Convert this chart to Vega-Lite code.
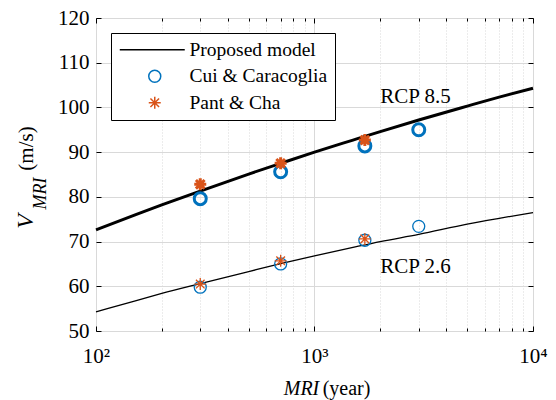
{
  "$schema": "https://vega.github.io/schema/vega-lite/v6.json",
  "width": 437,
  "height": 313,
  "autosize": {"type": "none"},
  "padding": {"left": 96, "top": 18, "right": 23, "bottom": 69},
  "background": "white",
  "config": {
    "view": {"stroke": "black", "strokeWidth": 1},
    "axis": {"domain": false},
    "legend": {
      "orient": "top-left",
      "offset": 15,
      "padding": 7,
      "symbolOffset": 27,
      "labelOffset": 25,
      "rowPadding": 5.5,
      "strokeColor": "black",
      "fillColor": "white",
      "cornerRadius": 0,
      "labelFont": "Liberation Serif",
      "labelFontSize": 19.5,
      "labelColor": "black",
      "symbolSize": 144,
      "symbolStrokeWidth": 1.5,
      "symbolOpacity": 1
    }
  },
  "datasets": {
    "lines": [
      {"MRI": 100, "V": 72.6, "scenario": "RCP 8.5", "series": "Proposed model"},
      {"MRI": 150, "V": 75.9, "scenario": "RCP 8.5", "series": "Proposed model"},
      {"MRI": 200, "V": 78.2, "scenario": "RCP 8.5", "series": "Proposed model"},
      {"MRI": 300, "V": 81.3, "scenario": "RCP 8.5", "series": "Proposed model"},
      {"MRI": 500, "V": 85.1, "scenario": "RCP 8.5", "series": "Proposed model"},
      {"MRI": 700, "V": 87.5, "scenario": "RCP 8.5", "series": "Proposed model"},
      {"MRI": 1000, "V": 90.0, "scenario": "RCP 8.5", "series": "Proposed model"},
      {"MRI": 1500, "V": 92.7, "scenario": "RCP 8.5", "series": "Proposed model"},
      {"MRI": 2000, "V": 94.6, "scenario": "RCP 8.5", "series": "Proposed model"},
      {"MRI": 3000, "V": 97.2, "scenario": "RCP 8.5", "series": "Proposed model"},
      {"MRI": 5000, "V": 100.3, "scenario": "RCP 8.5", "series": "Proposed model"},
      {"MRI": 7000, "V": 102.3, "scenario": "RCP 8.5", "series": "Proposed model"},
      {"MRI": 10000, "V": 104.3, "scenario": "RCP 8.5", "series": "Proposed model"},
      {"MRI": 100, "V": 54.3, "scenario": "RCP 2.6", "series": "Proposed model"},
      {"MRI": 150, "V": 56.7, "scenario": "RCP 2.6", "series": "Proposed model"},
      {"MRI": 200, "V": 58.4, "scenario": "RCP 2.6", "series": "Proposed model"},
      {"MRI": 300, "V": 60.6, "scenario": "RCP 2.6", "series": "Proposed model"},
      {"MRI": 500, "V": 63.3, "scenario": "RCP 2.6", "series": "Proposed model"},
      {"MRI": 700, "V": 65.05, "scenario": "RCP 2.6", "series": "Proposed model"},
      {"MRI": 1000, "V": 66.8, "scenario": "RCP 2.6", "series": "Proposed model"},
      {"MRI": 1500, "V": 68.7, "scenario": "RCP 2.6", "series": "Proposed model"},
      {"MRI": 2000, "V": 70.0, "scenario": "RCP 2.6", "series": "Proposed model"},
      {"MRI": 3000, "V": 71.6, "scenario": "RCP 2.6", "series": "Proposed model"},
      {"MRI": 5000, "V": 73.9, "scenario": "RCP 2.6", "series": "Proposed model"},
      {"MRI": 7000, "V": 75.2, "scenario": "RCP 2.6", "series": "Proposed model"},
      {"MRI": 10000, "V": 76.5, "scenario": "RCP 2.6", "series": "Proposed model"}
    ],
    "cui": [
      {"MRI": 300, "V": 79.6, "scenario": "RCP 8.5", "series": "Cui & Caracoglia"},
      {"MRI": 700, "V": 85.6, "scenario": "RCP 8.5", "series": "Cui & Caracoglia"},
      {"MRI": 1700, "V": 91.4, "scenario": "RCP 8.5", "series": "Cui & Caracoglia"},
      {"MRI": 3000, "V": 95.0, "scenario": "RCP 8.5", "series": "Cui & Caracoglia"},
      {"MRI": 300, "V": 59.8, "scenario": "RCP 2.6", "series": "Cui & Caracoglia"},
      {"MRI": 700, "V": 65.0, "scenario": "RCP 2.6", "series": "Cui & Caracoglia"},
      {"MRI": 1700, "V": 70.3, "scenario": "RCP 2.6", "series": "Cui & Caracoglia"},
      {"MRI": 3000, "V": 73.4, "scenario": "RCP 2.6", "series": "Cui & Caracoglia"}
    ],
    "pant": [
      {"MRI": 300, "V": 82.8, "scenario": "RCP 8.5", "series": "Pant & Cha"},
      {"MRI": 700, "V": 87.5, "scenario": "RCP 8.5", "series": "Pant & Cha"},
      {"MRI": 1700, "V": 92.7, "scenario": "RCP 8.5", "series": "Pant & Cha"},
      {"MRI": 300, "V": 60.5, "scenario": "RCP 2.6", "series": "Pant & Cha"},
      {"MRI": 700, "V": 65.7, "scenario": "RCP 2.6", "series": "Pant & Cha"},
      {"MRI": 1700, "V": 70.6, "scenario": "RCP 2.6", "series": "Pant & Cha"}
    ],
    "labels": [
      {"MRI": 2000, "V": 102.3, "label": "RCP 8.5"},
      {"MRI": 2000, "V": 64.3, "label": "RCP 2.6"}
    ]
  },
  "resolve": {"axis": {"x": "independent", "y": "independent"}},
  "layer": [
    {
      "data": {"name": "lines"},
      "mark": {"type": "line", "interpolate": "monotone"},
      "encoding": {
        "x": {
          "field": "MRI", "type": "quantitative",
          "scale": {"type": "log", "domain": [100, 10000], "nice": false},
          "axis": {
            "orient": "bottom",
            "values": [100, 200, 300, 400, 500, 600, 700, 800, 900, 1000, 2000, 3000, 4000, 5000, 6000, 7000, 8000, 9000, 10000],
            "labelExpr": "datum.value == 100 ? '10²' : datum.value == 1000 ? '10³' : datum.value == 10000 ? '10⁴' : ''",
            "labelFont": "Liberation Serif", "labelFontSize": 21, "labelColor": "black",
            "labelOverlap": false, "labelFlush": false, "labelPadding": 19,
            "tickColor": "black", "tickWidth": 1,
            "tickSize": {"condition": {"test": "datum.value == 100 || datum.value == 1000 || datum.value == 10000", "value": -5}, "value": -3},
            "grid": true, "gridColor": "#d9d9d9", "gridWidth": 1,
            "gridDash": {"condition": {"test": "datum.value == 100 || datum.value == 1000 || datum.value == 10000", "value": []}, "value": [1, 2]},
            "title": "(year)", "titleFont": "Liberation Serif", "titleFontSize": 20, "titleFontWeight": "normal", "titleColor": "black",
            "titleX": 250, "titleY": 63, "titleAlign": "center", "titleBaseline": "alphabetic", "titleAngle": 0
          }
        },
        "y": {
          "field": "V", "type": "quantitative",
          "scale": {"domain": [50, 120], "nice": false, "zero": false},
          "axis": {
            "orient": "left",
            "values": [50, 60, 70, 80, 90, 100, 110, 120],
            "labelFont": "Liberation Serif", "labelFontSize": 21, "labelColor": "black", "labelPadding": 12,
            "labelOverlap": false, "labelFlush": false,
            "tickColor": "black", "tickSize": -5,
            "grid": true, "gridColor": "#d9d9d9", "gridWidth": 1,
            "title": "(m/s)", "titleFont": "Liberation Serif", "titleFontSize": 21, "titleFontWeight": "normal", "titleColor": "black",
            "titleX": -64, "titleY": 130, "titleAngle": 270, "titleAlign": "center", "titleBaseline": "alphabetic"
          }
        },
        "color": {
          "field": "series", "type": "nominal",
          "scale": {"domain": ["Proposed model", "Cui & Caracoglia", "Pant & Cha"], "range": ["black", "#0072BD", "#D95319"]},
          "legend": {"title": null, "orient": "top-left"}
        },
        "strokeWidth": {
          "field": "scenario", "type": "nominal",
          "scale": {"domain": ["RCP 8.5", "RCP 2.6"], "range": [3, 1.3]},
          "legend": null
        }
      }
    },
    {
      "data": {"name": "cui"},
      "mark": {"type": "point", "filled": false, "size": 144, "opacity": 1},
      "encoding": {
        "x": {
          "field": "MRI", "type": "quantitative",
          "scale": {"type": "log", "domain": [100, 10000], "nice": false},
          "axis": {
            "orient": "bottom", "labels": false, "ticks": false, "grid": false, "domain": false,
            "title": "MRI", "titleFont": "Liberation Serif", "titleFontSize": 20, "titleFontWeight": "normal", "titleFontStyle": "italic", "titleColor": "black",
            "titleX": 205, "titleY": 63, "titleAlign": "center", "titleBaseline": "alphabetic", "titleAngle": 0
          }
        },
        "y": {
          "field": "V", "type": "quantitative",
          "scale": {"domain": [50, 120], "nice": false, "zero": false},
          "axis": {
            "orient": "left", "labels": false, "ticks": false, "grid": false, "domain": false,
            "title": "MRI", "titleFont": "Liberation Serif", "titleFontSize": 18, "titleFontWeight": "normal", "titleFontStyle": "italic", "titleColor": "black",
            "titleX": -51, "titleY": 175, "titleAngle": 270, "titleAlign": "center", "titleBaseline": "alphabetic"
          }
        },
        "color": {
          "field": "series", "type": "nominal",
          "scale": {"domain": ["Proposed model", "Cui & Caracoglia", "Pant & Cha"], "range": ["black", "#0072BD", "#D95319"]},
          "legend": {"title": null, "orient": "top-left"}
        },
        "shape": {
          "field": "series", "type": "nominal",
          "scale": {"domain": ["Proposed model", "Cui & Caracoglia", "Pant & Cha"], "range": ["M-5.83,0L5,0", "circle", "M0,-1L0,1M-1,0L1,0M-0.72,-0.72L0.72,0.72M-0.72,0.72L0.72,-0.72"]},
          "legend": {"title": null, "orient": "top-left"}
        },
        "strokeWidth": {
          "field": "scenario", "type": "nominal",
          "scale": {"domain": ["RCP 8.5", "RCP 2.6"], "range": [3, 1.3]},
          "legend": null
        }
      }
    },
    {
      "data": {"name": "labels"},
      "mark": {"type": "text", "font": "Liberation Serif", "fontSize": 21, "align": "left", "baseline": "middle", "color": "black"},
      "encoding": {
        "x": {
          "field": "MRI", "type": "quantitative",
          "scale": {"type": "log", "domain": [100, 10000], "nice": false},
          "axis": {
            "orient": "top", "labels": false, "grid": false, "domain": false, "title": null,
            "values": [100, 200, 300, 400, 500, 600, 700, 800, 900, 1000, 2000, 3000, 4000, 5000, 6000, 7000, 8000, 9000, 10000],
            "tickColor": "black",
            "tickSize": {"condition": {"test": "datum.value == 100 || datum.value == 1000 || datum.value == 10000", "value": -5}, "value": -3}
          }
        },
        "y": {
          "field": "V", "type": "quantitative",
          "scale": {"domain": [50, 120], "nice": false, "zero": false},
          "axis": {
            "orient": "left", "labels": false, "ticks": false, "grid": false, "domain": false,
            "title": "V", "titleFont": "Liberation Serif", "titleFontSize": 24, "titleFontWeight": "normal", "titleFontStyle": "italic", "titleColor": "black",
            "titleX": -64, "titleY": 203, "titleAngle": 270, "titleAlign": "center", "titleBaseline": "alphabetic"
          }
        },
        "text": {"field": "label", "type": "nominal"}
      }
    },
    {
      "data": {"name": "pant"},
      "mark": {"type": "point", "filled": false, "size": 144, "opacity": 1},
      "encoding": {
        "x": {
          "field": "MRI", "type": "quantitative",
          "scale": {"type": "log", "domain": [100, 10000], "nice": false},
          "axis": null
        },
        "y": {
          "field": "V", "type": "quantitative",
          "scale": {"domain": [50, 120], "nice": false, "zero": false},
          "axis": {
            "orient": "right", "labels": false, "grid": false, "domain": false, "title": null,
            "values": [50, 60, 70, 80, 90, 100, 110, 120],
            "tickColor": "black", "tickSize": -5
          }
        },
        "color": {
          "field": "series", "type": "nominal",
          "scale": {"domain": ["Proposed model", "Cui & Caracoglia", "Pant & Cha"], "range": ["black", "#0072BD", "#D95319"]},
          "legend": {"title": null, "orient": "top-left"}
        },
        "shape": {
          "field": "series", "type": "nominal",
          "scale": {"domain": ["Proposed model", "Cui & Caracoglia", "Pant & Cha"], "range": ["M-5.83,0L5,0", "circle", "M0,-1L0,1M-1,0L1,0M-0.72,-0.72L0.72,0.72M-0.72,0.72L0.72,-0.72"]},
          "legend": {"title": null, "orient": "top-left"}
        },
        "strokeWidth": {
          "field": "scenario", "type": "nominal",
          "scale": {"domain": ["RCP 8.5", "RCP 2.6"], "range": [3, 1.3]},
          "legend": null
        }
      }
    }
  ]
}
